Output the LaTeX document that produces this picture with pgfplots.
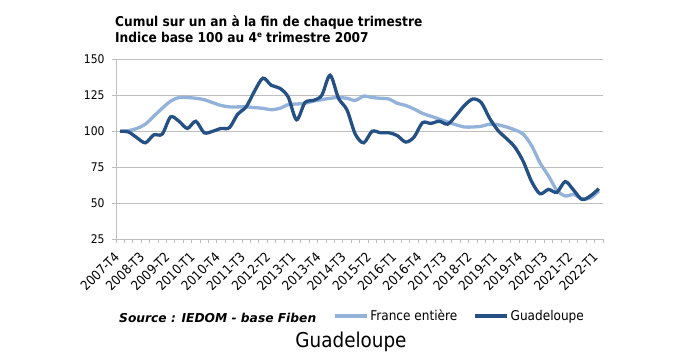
\documentclass[border=0pt]{standalone}
\usepackage{fontspec}
\setmainfont{DejaVu Sans Condensed}
\newfontfamily\verdana{DejaVu Sans}
\usepackage{pgfplots}
\pgfplotsset{compat=1.18}
\usepackage{pgfplotstable}

\definecolor{lightblue}{RGB}{146,178,218}
\definecolor{darkblue}{RGB}{36,80,132}
\definecolor{gridgray}{RGB}{190,190,190}
\newcommand\xlfont{\fontsize{13.2}{15}\selectfont}

\pgfplotstableread{
i L G
0 100 100
1 100.5 99.5
2 102 95.5
3 105 92
4 110.5 97.5
5 116 98
6 121 110
7 123.5 107
8 123.5 102
9 123 107
10 122 99
11 120 100
12 118 102
13 117 102.5
14 117 112
15 117 117
16 116.5 128
17 116 137
18 115 132
19 116 130
20 118.5 124
21 119 108
22 119.5 120
23 121 121.5
24 122 125
25 123 139
26 123.5 123
27 123 115
28 121.5 98
29 124.5 92
30 123.5 100
31 123 99
32 122.5 99
33 119.5 97
34 118 92.5
35 115.5 96
36 112.5 106
37 110.5 105.5
38 108.5 107
39 106.5 105
40 104.5 111
41 103 118
42 103 122.5
43 103.5 120
44 105 109
45 104.5 100.5
46 103 95
47 101 89
48 98 79
49 90 65
50 78 56.5
51 69 59.5
52 59 57.5
53 55 65
54 56 59
55 53 52.5
56 53.5 55
57 58.5 60
}\data

\begin{document}
\begin{tikzpicture}[x=1bp,y=1bp]
\useasboundingbox (0,0) rectangle (690,361);
\begin{axis}[
  at={(116bp,122bp)}, anchor=south west,
  scale only axis, width=487bp, height=179.5bp,
  xmin=-0.5, xmax=57.5, ymin=25, ymax=150,
  axis x line*=bottom, axis y line*=left,
  axis line style={gridgray, line width=1bp},
  ytick={25,50,...,150},
  ymajorgrids, grid style={gridgray, line width=1bp},
  tick align=outside,
  major tick length=4bp,
  tick style={gridgray, line width=0.8bp},
  xtick={-0.5,0.5,...,57.5},
  xticklabels={},
  extra x ticks={0,3,...,57},
  extra x tick labels={\xlfont 2007-T4,\xlfont 2008-T3,\xlfont 2009-T2,\xlfont 2010-T1,\xlfont 2010-T4,\xlfont 2011-T3,\xlfont 2012-T2,\xlfont 2013-T1,\xlfont 2013-T4,\xlfont 2014-T3,\xlfont 2015-T2,\xlfont 2016-T1,\xlfont 2016-T4,\xlfont 2017-T3,\xlfont 2018-T2,\xlfont 2019-T1,\xlfont 2019-T4,\xlfont 2020-T3,\xlfont 2021-T2,\xlfont 2022-T1},
  extra x tick style={major tick length=0pt},
  xticklabel style={yshift=-13bp, xshift=-1bp, rotate=45, anchor=east, font=\xlfont},
  yticklabel style={xshift=-4bp, font=\fontsize{12}{14}\selectfont},
  /pgf/number format/assume math mode=true,
  legend style={at={(axis description cs:0.445,-0.43)}, anchor=west, draw=none, fill=none, inner sep=0pt, legend columns=2, font=\fontsize{13.5}{15}\selectfont, /tikz/every even column/.append style={column sep=14bp}},
  legend image code/.code={\draw[#1, line width=3.5bp] (0bp,0bp) -- (32bp,0bp);},
]
\addplot[lightblue, line width=3.3bp, smooth, tension=0.5] table[x=i, y=L] {\data};
\addlegendentry{France entière}
\addplot[darkblue, line width=3.3bp, smooth, tension=0.5] table[x=i, y=G] {\data};
\addlegendentry{Guadeloupe}
\end{axis}
\node[anchor=base west, font=\bfseries\fontsize{13.6}{16}\selectfont, inner sep=0] at (115,335) {Cumul sur un an à la fin de chaque trimestre};
\node[anchor=base west, font=\bfseries\fontsize{13.6}{16}\selectfont, inner sep=0] at (115,319) {Indice base 100 au 4\raisebox{4.5bp}{\fontsize{8}{8}\selectfont e} trimestre 2007};
\node[anchor=west, font=\verdana\bfseries\itshape\fontsize{12.3}{14}\selectfont, inner sep=0] at (119,43) {Source : IEDOM - base Fiben};
\node[anchor=center, font=\fontsize{20.5}{22}\selectfont, inner sep=0] at (351,19) {Guadeloupe};
\end{tikzpicture}
\end{document}
